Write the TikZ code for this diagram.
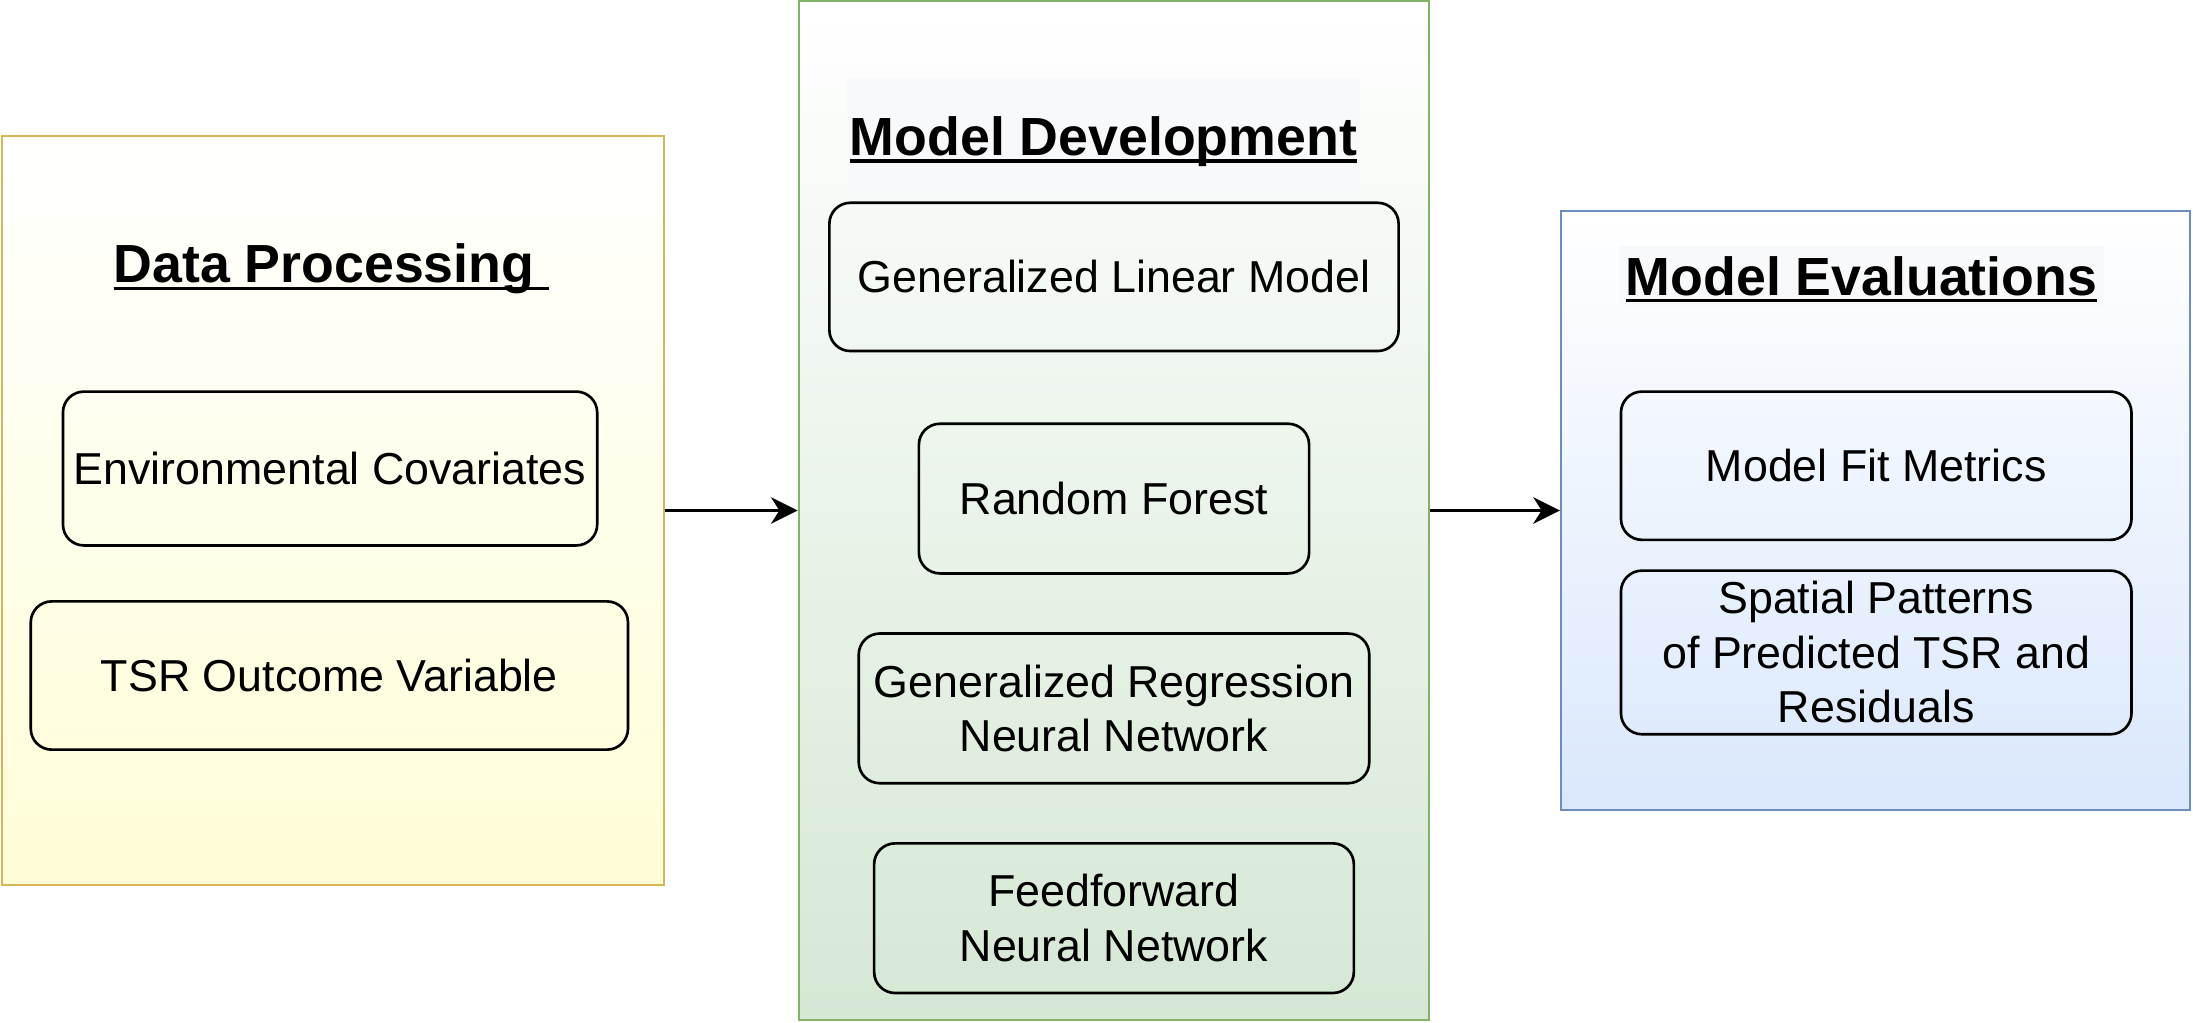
\documentclass[tikz,border=0pt]{standalone}
\usepackage{fontspec}
\setmainfont{Liberation Sans}
\usetikzlibrary{arrows.meta}
\definecolor{ylwline}{HTML}{D6B656}
\definecolor{ylwfill}{HTML}{FFFDD6}
\definecolor{grnline}{HTML}{82B366}
\definecolor{grnfill}{HTML}{D5E8D4}
\definecolor{bluline}{HTML}{6C8EBF}
\definecolor{blufill}{HTML}{DAE8FC}
\definecolor{headbg}{HTML}{F8F9FA}
\newcommand{\hdul}[1]{\setbox0=\hbox{#1}\rlap{\rule[-2.6pt]{\wd0}{1.1pt}}\box0}
\tikzset{
  panel/.style={rectangle, line width=0.75pt, top color=white, inner sep=0pt},
  itembox/.style={rectangle, rounded corners=7.5pt, draw=black, line width=0.95pt,
    inner sep=0pt, align=center, font=\fontsize{16}{19.5}\selectfont},
  heading/.style={inner sep=0pt, anchor=base, font=\bfseries\fontsize{19.2}{23}\selectfont},
  flow/.style={line width=1pt, -{Stealth[length=9.5pt, width=9.5pt, inset=3pt]}}
}
\begin{document}
\begin{tikzpicture}[x=0.5pt, y=-0.5pt]
\useasboundingbox (0,0) rectangle (1568,731);
% panels
\node[panel, draw=ylwline, bottom color=ylwfill, minimum width=236.5pt, minimum height=268pt] (dp) at (238,365) {};
\node[panel, draw=grnline, bottom color=grnfill, minimum width=225.5pt, minimum height=364pt] (md) at (796.5,365) {};
\node[panel, draw=bluline, bottom color=blufill, minimum width=225pt, minimum height=214pt] (me) at (1341,365) {};
% headings
\node[heading] (dph) at (237,202) {\hdul{Data Processing\ }};
\node[heading, fill=headbg, inner xsep=1pt] (mdh) at (789,111) {\rule[-14pt]{0pt}{41.5pt}\hdul{Model Development}};
\node[heading, fill=headbg, inner xsep=2.5pt] (meh) at (1331,211) {\rule[-4pt]{0pt}{21.5pt}\hdul{Model Evaluations}};
% data processing items
\node[itembox, minimum width=191pt, minimum height=55pt] (env) at (236,335) {Environmental Covariates};
\node[itembox, minimum width=213.5pt, minimum height=53pt] (tsr) at (235.5,483) {TSR Outcome Variable};
% model development items
\node[itembox, minimum width=203.5pt, minimum height=53pt] (glm) at (796.5,198) {Generalized Linear Model};
\node[itembox, minimum width=139.5pt, minimum height=53.5pt] (rf) at (796.5,356.5) {Random Forest};
\node[itembox, minimum width=182.5pt, minimum height=53.5pt] (grnn) at (796.5,506.5) {Generalized Regression\\Neural Network};
\node[itembox, minimum width=171.5pt, minimum height=53.5pt] (fnn) at (796.5,656.5) {Feedforward\\Neural Network};
% model evaluation items
\node[itembox, minimum width=182.5pt, minimum height=53pt] (mfm) at (1341.5,333) {Model Fit Metrics};
\node[itembox, minimum width=182.5pt, minimum height=58.5pt] (sp) at (1341.5,466.5) {Spatial Patterns\\of Predicted TSR and\\Residuals};
% connectors
\draw[flow] (dp.east) -- (md.west);
\draw[flow] (md.east) -- (me.west);
\end{tikzpicture}
\end{document}
